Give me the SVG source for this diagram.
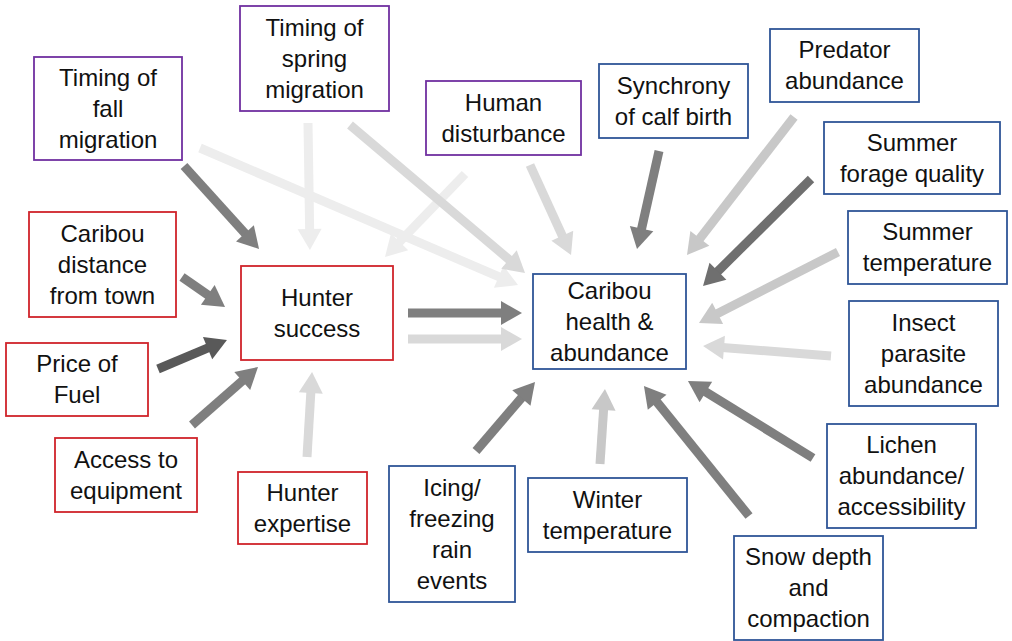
<svg xmlns="http://www.w3.org/2000/svg" width="1012" height="641" viewBox="0 0 1012 641">
<style>
.bg{fill:#fff}
.box{fill:#fff;stroke-width:1.8}
.red{stroke:#D0242B}
.pur{stroke:#7030A0}
.blu{stroke:#2F5597}
text{font-family:"Liberation Sans",Arial,sans-serif;font-size:24px;fill:#111;text-anchor:middle}
.a{fill:none;stroke-width:9}
.c0{stroke:#595959;marker-end:url(#m0)}
.c1{stroke:#7F7F7F;marker-end:url(#m1)}
.c2{stroke:#6F6F6F;marker-end:url(#m2)}
.c3{stroke:#C8C8C8;marker-end:url(#m3)}
.c4{stroke:#D9D9D9;marker-end:url(#m4)}
.c5{stroke:#EDEDED;marker-end:url(#m5)}
</style>
<defs>
<marker id="m0" markerUnits="userSpaceOnUse" markerWidth="21" markerHeight="24" viewBox="0 -12 21 24" refX="5" refY="0" orient="auto" overflow="visible"><path d="M0,-12L21,0L0,12z" fill="#595959"/></marker>
<marker id="m1" markerUnits="userSpaceOnUse" markerWidth="21" markerHeight="24" viewBox="0 -12 21 24" refX="5" refY="0" orient="auto" overflow="visible"><path d="M0,-12L21,0L0,12z" fill="#7F7F7F"/></marker>
<marker id="m2" markerUnits="userSpaceOnUse" markerWidth="21" markerHeight="24" viewBox="0 -12 21 24" refX="5" refY="0" orient="auto" overflow="visible"><path d="M0,-12L21,0L0,12z" fill="#6F6F6F"/></marker>
<marker id="m3" markerUnits="userSpaceOnUse" markerWidth="21" markerHeight="24" viewBox="0 -12 21 24" refX="5" refY="0" orient="auto" overflow="visible"><path d="M0,-12L21,0L0,12z" fill="#C8C8C8"/></marker>
<marker id="m4" markerUnits="userSpaceOnUse" markerWidth="21" markerHeight="24" viewBox="0 -12 21 24" refX="5" refY="0" orient="auto" overflow="visible"><path d="M0,-12L21,0L0,12z" fill="#D9D9D9"/></marker>
<marker id="m5" markerUnits="userSpaceOnUse" markerWidth="21" markerHeight="24" viewBox="0 -12 21 24" refX="5" refY="0" orient="auto" overflow="visible"><path d="M0,-12L21,0L0,12z" fill="#EDEDED"/></marker>
</defs>
<rect class="bg" x="0" y="0" width="1012" height="641"/>
<g id="connectors">
<path class="a c5" d="M308,123L309.7,234"/>
<path class="a c5" d="M200,148L503.3,278.7"/>
<path class="a c5" d="M465,174L396.1,245.5"/>
<path class="a c4" d="M350,125L512.8,262.7"/>
<path class="a c4" d="M530,165L564.4,240.4"/>
<path class="a c4" d="M831,356L719,347.2"/>
<path class="a c4" d="M408,339L506,339"/>
<path class="a c4" d="M307,457L311.1,388"/>
<path class="a c3" d="M794,117L696.8,242.4"/>
<path class="a c3" d="M838,252L713.2,315.7"/>
<path class="a c3" d="M600,464L603.9,405"/>
<path class="a c1" d="M184,166L248.3,237.1"/>
<path class="a c1" d="M659,151L640.5,233.4"/>
<path class="a c2" d="M811,179L714.4,274.7"/>
<path class="a c1" d="M813,458L701.6,389.4"/>
<path class="a c1" d="M749,516L654,398.4"/>
<path class="a c1" d="M476,451L524.6,394.2"/>
<path class="a c1" d="M408,313L506,313"/>
<path class="a c1" d="M182,277L211.9,297.8"/>
<path class="a c0" d="M158,369L212.2,346.2"/>
<path class="a c1" d="M192,425L246,377.6"/>
</g>
<g id="fall-migration"><rect class="box pur" x="34" y="57" width="148" height="103"/><text x="108" y="85.5">Timing of</text><text x="108" y="116.5">fall</text><text x="108" y="147.5">migration</text></g>
<g id="spring-migration"><rect class="box pur" x="240" y="6" width="149" height="105"/><text x="314.5" y="35.5">Timing of</text><text x="314.5" y="66.5">spring</text><text x="314.5" y="97.5">migration</text></g>
<g id="human-disturbance"><rect class="box pur" x="426" y="81" width="155" height="74"/><text x="503.5" y="110.5">Human</text><text x="503.5" y="141.5">disturbance</text></g>
<g id="synchrony"><rect class="box blu" x="599" y="64" width="149" height="74"/><text x="673.5" y="93.5">Synchrony</text><text x="673.5" y="124.5">of calf birth</text></g>
<g id="predator"><rect class="box blu" x="770" y="29" width="149" height="73"/><text x="844.5" y="58">Predator</text><text x="844.5" y="89">abundance</text></g>
<g id="forage"><rect class="box blu" x="824" y="122" width="176" height="72"/><text x="912" y="150.5">Summer</text><text x="912" y="181.5">forage quality</text></g>
<g id="summer-temp"><rect class="box blu" x="848" y="211" width="159" height="73"/><text x="927.5" y="240">Summer</text><text x="927.5" y="271">temperature</text></g>
<g id="insect"><rect class="box blu" x="849" y="301" width="149" height="105"/><text x="923.5" y="330.5">Insect</text><text x="923.5" y="361.5">parasite</text><text x="923.5" y="392.5">abundance</text></g>
<g id="lichen"><rect class="box blu" x="827" y="424" width="149" height="104"/><text x="901.5" y="453">Lichen</text><text x="901.5" y="484">abundance/</text><text x="901.5" y="515">accessibility</text></g>
<g id="snow"><rect class="box blu" x="734" y="536" width="149" height="104"/><text x="808.5" y="565">Snow depth</text><text x="808.5" y="596">and</text><text x="808.5" y="627">compaction</text></g>
<g id="winter"><rect class="box blu" x="528" y="478" width="159" height="74"/><text x="607.5" y="507.5">Winter</text><text x="607.5" y="538.5">temperature</text></g>
<g id="icing"><rect class="box blu" x="389" y="466" width="126" height="136"/><text x="452" y="495.5">Icing/</text><text x="452" y="526.5">freezing</text><text x="452" y="557.5">rain</text><text x="452" y="588.5">events</text></g>
<g id="hunter-expertise"><rect class="box red" x="238" y="472" width="129" height="72"/><text x="302.5" y="500.5">Hunter</text><text x="302.5" y="531.5">expertise</text></g>
<g id="access"><rect class="box red" x="55" y="438" width="142" height="74"/><text x="126" y="467.5">Access to</text><text x="126" y="498.5">equipment</text></g>
<g id="fuel"><rect class="box red" x="6" y="343" width="142" height="73"/><text x="77" y="372">Price of</text><text x="77" y="403">Fuel</text></g>
<g id="distance"><rect class="box red" x="29" y="212" width="147" height="105"/><text x="102.5" y="241.5">Caribou</text><text x="102.5" y="272.5">distance</text><text x="102.5" y="303.5">from town</text></g>
<g id="hunter-success"><rect class="box red" x="241" y="266" width="152" height="94"/><text x="317" y="305.5">Hunter</text><text x="317" y="336.5">success</text></g>
<g id="caribou-health"><rect class="box blu" x="533" y="274" width="153" height="95"/><text x="609.5" y="298.5">Caribou</text><text x="609.5" y="329.5">health &amp;</text><text x="609.5" y="360.5">abundance</text></g>
</svg>
